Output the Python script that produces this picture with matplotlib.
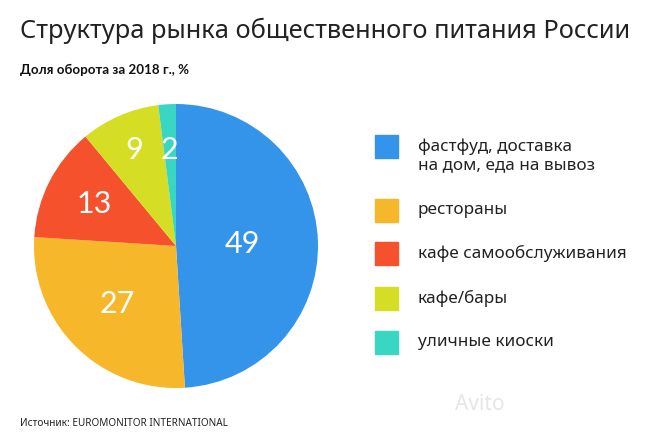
import numpy as np
import matplotlib.pyplot as plt
from matplotlib.patches import Rectangle

# Доля оборота за 2018 г., %
labels = ['фастфуд, доставка\nна дом, еда на вывоз', 'рестораны', 'кафе самообслуживания',
          'кафе/бары', 'уличные киоски']
values = [49, 27, 13, 9, 2]
colors = ['#3494E9', '#F6B72A', '#F4512C', '#D5DD24', '#3AD6C4']
label_dist = [0.47, 0.58, 0.65, 0.74, 0.68]

plt.rcParams['font.family'] = ['Noto Sans', 'DejaVu Sans']

W, H = 664, 446
fig = plt.figure(figsize=(W / 100, H / 100), dpi=100)

# pie
ax = fig.add_axes([34 / W, (H - 388) / H, 284 / W, 284 / H])
wedges, _ = ax.pie(values, colors=colors, startangle=90, counterclock=False,
                   wedgeprops=dict(linewidth=0))
ax.set_xlim(-1, 1)
ax.set_ylim(-1, 1)
ax.set_aspect('equal')
ax.axis('off')

for w, v, d in zip(wedges, values, label_dist):
    ang = np.deg2rad((w.theta1 + w.theta2) / 2)
    ax.text(d * np.cos(ang), d * np.sin(ang), str(v), color='white',
            fontsize=22, family='Lato', ha='center', va='center')

# legend
ys = [146, 210, 253, 298, 342]
for y, c, lab in zip(ys, colors, labels):
    fig.patches.append(Rectangle((375 / W, (H - y - 12) / H), 23 / W, 23 / H,
                                 transform=fig.transFigure, color=c))
    yt = y + 10 if '\n' in lab else y
    fig.text(418 / W, (H - yt) / H, lab, fontsize=12.3, color='#222222',
             va='center', linespacing=1.2)

# titles
fig.text(20 / W, (H - 31) / H, 'Структура рынка общественного питания России',
         fontsize=18.3, color='#222222', va='center')
fig.text(20 / W, (H - 70) / H, 'Доля оборота за 2018 г., %', family='Lato',
         fontsize=9.6, fontweight='bold', color='#111111', va='center')
fig.text(20 / W, (H - 423) / H, 'Источник: EUROMONITOR INTERNATIONAL',
         fontsize=7.2, color='#222222', va='center')
fig.text(505 / W, (H - 405) / H, 'Avito', fontsize=15, color='#e6e6e6',
         ha='right', va='center')

fig.savefig('out.png', dpi=100)
